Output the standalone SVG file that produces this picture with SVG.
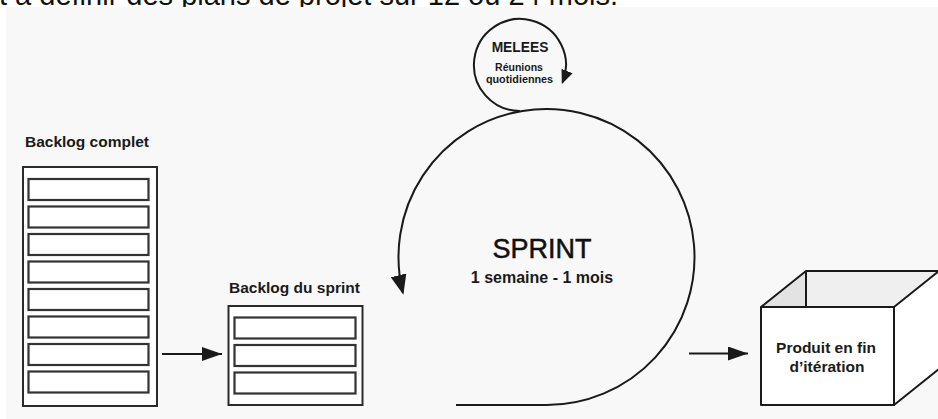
<svg xmlns="http://www.w3.org/2000/svg" width="938" height="419" viewBox="0 0 938 419">
  <style>
    .lbl { font-family: "Liberation Sans", Arial, sans-serif; font-weight: bold; fill: #1a1a1a; }
    .outer { fill: #ffffff; stroke: #2a2a2a; stroke-width: 2; }
    .item { fill: #ffffff; stroke: #333333; stroke-width: 2.2; }
    .line { fill: none; stroke: #1a1a1a; stroke-width: 2; }
    .edge { stroke: #1a1a1a; stroke-width: 2; stroke-linejoin: round; }
  </style>
  <defs>
    <marker id="arrowBig" markerUnits="userSpaceOnUse" markerWidth="22" markerHeight="18" refX="18" refY="8" orient="auto">
      <path d="M0,0 L20,8 L0,16 z" fill="#1a1a1a"/>
    </marker>
    <marker id="arrowSmall" markerUnits="userSpaceOnUse" markerWidth="16" markerHeight="14" refX="12" refY="6" orient="auto">
      <path d="M0,0 L14,6 L0,12 z" fill="#1a1a1a"/>
    </marker>
    <marker id="arrowStraight" markerUnits="userSpaceOnUse" markerWidth="22" markerHeight="16" refX="20" refY="7" orient="auto">
      <path d="M0,0 L20,7 L0,14 z" fill="#1a1a1a"/>
    </marker>
  </defs>

  <rect x="0" y="0" width="938" height="419" fill="#ffffff"/>
  <text x="-1" y="5" font-family="'Liberation Sans', Arial, sans-serif" font-size="29" fill="#111111">t à définir des plans de projet sur 12 ou 24 mois.</text>
  <rect x="6" y="7" width="932" height="412" fill="#f8f8f8"/>

  <g id="backlog-complet">
    <text class="lbl" x="25" y="147" font-size="15.5">Backlog complet</text>
    <rect class="outer" x="23" y="167" width="134" height="239"/>
    <rect class="item" x="28.5" y="179" width="120" height="21"/>
    <rect class="item" x="28.5" y="206.5" width="120" height="21"/>
    <rect class="item" x="28.5" y="234" width="120" height="21"/>
    <rect class="item" x="28.5" y="261.5" width="120" height="21"/>
    <rect class="item" x="28.5" y="289" width="120" height="21"/>
    <rect class="item" x="28.5" y="316.5" width="120" height="21"/>
    <rect class="item" x="28.5" y="344" width="120" height="21"/>
    <rect class="item" x="28.5" y="371.5" width="120" height="21"/>
  </g>

  <g id="backlog-sprint">
    <text class="lbl" x="229" y="293" font-size="15.5">Backlog du sprint</text>
    <rect class="outer" x="228.5" y="306" width="134" height="99"/>
    <rect class="item" x="234.5" y="317.5" width="121" height="21"/>
    <rect class="item" x="234.5" y="345" width="121" height="21"/>
    <rect class="item" x="234.5" y="372.5" width="121" height="21"/>
  </g>

  <g id="sprint">
    <text x="542" y="258" text-anchor="middle" font-family="'Liberation Sans', Arial, sans-serif" font-size="27" fill="#111111" stroke="#111111" stroke-width="0.5">SPRINT</text>
    <text class="lbl" x="542" y="283" text-anchor="middle" font-size="16">1 semaine - 1 mois</text>
  </g>

  <g id="melees">
    <text class="lbl" x="520" y="52" text-anchor="middle" font-size="13.8">MELEES</text>
    <text class="lbl" x="519" y="70.8" text-anchor="middle" font-size="10.5">Réunions</text>
    <text class="lbl" x="519.5" y="82.8" text-anchor="middle" font-size="10.8">quotidiennes</text>
  </g>

  <g id="produit">
    <polygon points="761,307 806,271 806,307" fill="#e3e3e3"/>
    <polygon points="806,271 939,271 894,307 806,307" fill="#efefef"/>
    <polygon points="894,307 939,271 939,369 894,405" fill="#ffffff" class="edge"/>
    <rect x="761" y="307" width="133" height="98" fill="#ffffff" class="edge"/>
    <polyline points="761,307 806,271 939,271" fill="none" class="edge"/>
    <line x1="806" y1="271" x2="806" y2="307" class="edge"/>
    <text class="lbl" x="826" y="352.7" text-anchor="middle" font-size="15.5">Produit en fin</text>
    <text class="lbl" x="827" y="371.7" text-anchor="middle" font-size="15.5">d’itération</text>
  </g>

  <g id="connectors">
    <path class="line" d="M456,405 L546.5,405 A148,148 0 1 0 402.9,292.8" marker-end="url(#arrowBig)"/>
    <path class="line" d="M520,111 A46,46 0 1 1 562.6,82.2" marker-end="url(#arrowSmall)"/>
    <line class="line" x1="162" y1="354" x2="222" y2="354" marker-end="url(#arrowStraight)"/>
    <line class="line" x1="689" y1="353.5" x2="748" y2="353.5" marker-end="url(#arrowStraight)"/>
  </g>
</svg>
